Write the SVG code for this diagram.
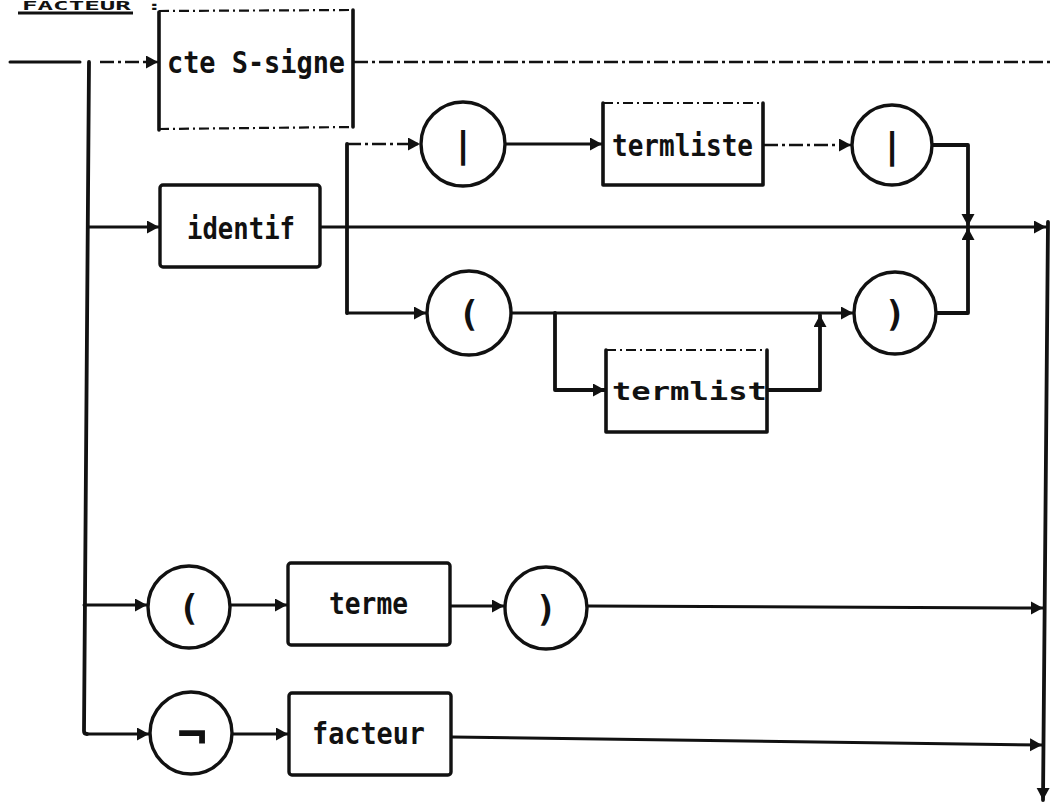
<svg xmlns="http://www.w3.org/2000/svg" width="1050" height="803" viewBox="0 0 1050 803">
<style>
.ln{fill:none;stroke:#111;stroke-width:3;stroke-linecap:round;stroke-linejoin:round}
.dl{fill:none;stroke:#111;stroke-width:2.6;stroke-dasharray:14 4 3 4}
.bus{fill:none;stroke:#111;stroke-width:3.8;stroke-linecap:round;stroke-linejoin:round}
.box{fill:#fff;stroke:#111;stroke-width:3.4;stroke-linejoin:round}
.side{fill:none;stroke:#111;stroke-width:3.6;stroke-linecap:round;stroke-linejoin:round}
.dtop{fill:none;stroke:#111;stroke-width:2.2;stroke-dasharray:10 4 2 4}
.cir{fill:#fff;stroke:#111;stroke-width:3.4}
.t{font-family:"DejaVu Sans Mono","Liberation Mono",monospace;font-weight:bold;font-size:30px;fill:#111}
.g{font-family:"DejaVu Sans Mono","Liberation Mono",monospace;font-weight:bold;font-size:36px;fill:#111;text-anchor:middle}
</style>
<defs>
<marker id="a" markerUnits="userSpaceOnUse" markerWidth="14" markerHeight="14" refX="12" refY="6.5" orient="auto">
<path d="M0,0 L12,6.5 L0,13 z" fill="#111"/>
</marker>
</defs>
<rect width="1050" height="803" fill="#fff"/>
<g id="title">
<text x="22" y="10" font-family="DejaVu Sans Mono, monospace" font-weight="bold" font-size="12" fill="#111" textLength="140" lengthAdjust="spacingAndGlyphs">FACTEUR :</text>
<line x1="18" y1="13" x2="133" y2="13" stroke="#111" stroke-width="3"/>
</g>
<g id="connectors">
<line class="ln" x1="10" y1="62" x2="80" y2="62"/>
<path class="bus" d="M89,62 L84,731 Q84,734 87,734"/>
<line class="dl" x1="100" y1="62" x2="158" y2="62" marker-end="url(#a)"/>
<line class="dl" x1="354" y1="62" x2="1050" y2="62"/>
<line class="ln" x1="88" y1="227" x2="159" y2="227" marker-end="url(#a)"/>
<line class="ln" x1="320" y1="227" x2="1046" y2="227" marker-end="url(#a)"/>
<path class="bus" d="M347,144 L347,313"/>
<line class="dl" x1="347" y1="144" x2="420" y2="144" marker-end="url(#a)"/>
<line class="ln" x1="505" y1="144" x2="602" y2="144" marker-end="url(#a)"/>
<line class="dl" x1="764" y1="145" x2="851" y2="145" marker-end="url(#a)"/>
<path class="bus" d="M932,145 L968,145 L968,226" marker-end="url(#a)"/>
<path class="bus" d="M936,313 L968,313 L968,228" marker-end="url(#a)"/>
<line class="ln" x1="347" y1="313" x2="426" y2="313" marker-end="url(#a)"/>
<line class="ln" x1="511" y1="313" x2="853" y2="313" marker-end="url(#a)"/>
<path class="bus" d="M555,313 L555,390 L605,390" marker-end="url(#a)"/>
<path class="bus" d="M767,390 L820,390 L820,315" marker-end="url(#a)"/>
<line class="ln" x1="84" y1="605" x2="147" y2="605" marker-end="url(#a)"/>
<line class="ln" x1="230" y1="605" x2="287" y2="605" marker-end="url(#a)"/>
<line class="ln" x1="451" y1="606" x2="504" y2="606" marker-end="url(#a)"/>
<line class="ln" x1="587" y1="606" x2="1043" y2="608" marker-end="url(#a)"/>
<line class="ln" x1="87" y1="734" x2="149" y2="734" marker-end="url(#a)"/>
<line class="ln" x1="232" y1="734" x2="288" y2="734" marker-end="url(#a)"/>
<line class="ln" x1="452" y1="737" x2="1042" y2="745" marker-end="url(#a)"/>
<path class="bus" d="M1048,222 L1043,800" marker-end="url(#a)"/>
</g>
<g id="cte-s-signe">
<rect x="159" y="11" width="194" height="118" fill="#fff"/>
<line class="dtop" x1="159" y1="11" x2="353" y2="10"/>
<line class="dtop" x1="159" y1="129" x2="353" y2="127"/>
<line class="side" x1="159" y1="12" x2="159" y2="130"/>
<line class="side" x1="353" y1="10" x2="353" y2="127"/>
<text class="t" x="167" y="73" textLength="178" lengthAdjust="spacingAndGlyphs">cte S-signe</text>
</g>
<g id="identif">
<rect class="box" x="160" y="185" width="160" height="82" rx="3"/>
<text class="t" x="187" y="239" textLength="108" lengthAdjust="spacingAndGlyphs">identif</text>
</g>
<g id="paren-open-1">
<circle class="cir" cx="463" cy="144" r="42"/>
<text class="g" x="463" y="157">|</text>
</g>
<g id="termliste">
<rect x="603" y="103" width="160" height="82" fill="#fff"/>
<line class="dtop" x1="603" y1="103" x2="763" y2="103"/>
<path class="side" d="M603,103 L603,185 L763,185 L763,103"/>
<text class="t" x="612" y="156" textLength="141" lengthAdjust="spacingAndGlyphs">termliste</text>
</g>
<g id="paren-close-1">
<circle class="cir" cx="892" cy="145" r="40"/>
<text class="g" x="892" y="158">|</text>
</g>
<g id="paren-open-2">
<circle class="cir" cx="469" cy="313" r="42"/>
<text class="g" x="469" y="326">(</text>
</g>
<g id="paren-close-2">
<circle class="cir" cx="895" cy="313" r="41"/>
<text class="g" x="895" y="326">)</text>
</g>
<g id="termlist">
<rect x="606" y="350" width="161" height="82" fill="#fff"/>
<line class="dtop" x1="606" y1="350" x2="767" y2="350"/>
<path class="side" d="M606,350 L606,432 L767,432 L767,350"/>
<text class="t" x="612" y="400" style="font-size:25px" textLength="155" lengthAdjust="spacingAndGlyphs">termlist</text>
</g>
<g id="paren-open-3">
<circle class="cir" cx="189" cy="607" r="41"/>
<text class="g" x="189" y="620">(</text>
</g>
<g id="terme">
<rect class="box" x="288" y="563" width="162" height="82" rx="3"/>
<text class="t" x="329" y="614" textLength="79" lengthAdjust="spacingAndGlyphs">terme</text>
</g>
<g id="paren-close-3">
<circle class="cir" cx="546" cy="608" r="41"/>
<text class="g" x="546" y="621">)</text>
</g>
<g id="non">
<circle class="cir" cx="191" cy="733" r="41"/>
<text class="g" x="192" y="752" style="font-size:50px">¬</text>
</g>
<g id="facteur">
<rect class="box" x="289" y="693" width="162" height="82" rx="3"/>
<text class="t" x="312" y="744" textLength="113" lengthAdjust="spacingAndGlyphs">facteur</text>
</g>
</svg>
